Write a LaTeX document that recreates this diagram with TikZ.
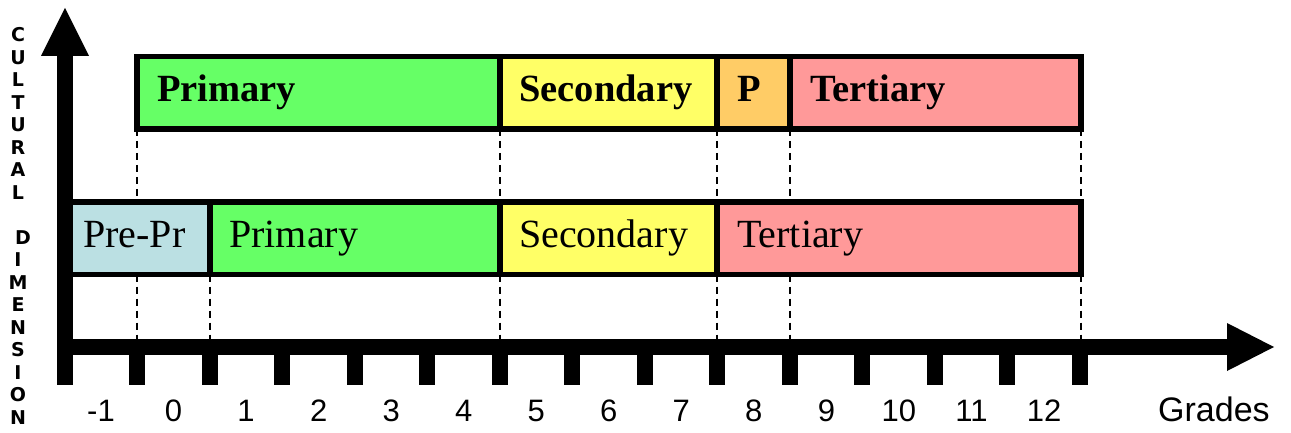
\documentclass[tikz,border=0pt]{standalone}
\usepackage{fontspec}
\setmainfont{Liberation Serif}
\newfontfamily\gradefont{Liberation Sans}
\newfontfamily\vertfont{DejaVu Sans}
\definecolor{cgreen}{RGB}{102,255,102}
\definecolor{cyellow}{RGB}{255,255,102}
\definecolor{corange}{RGB}{255,204,102}
\definecolor{cpink}{RGB}{255,153,153}
\definecolor{cblue}{RGB}{187,224,227}
\begin{document}
\begin{tikzpicture}[x=1pt,y=-1pt,
  box/.style={draw=black,line width=5.5pt,rectangle,inner sep=0pt,outer sep=0pt,anchor=north west,minimum height=72.5pt},
  dashline/.style={line width=1.8pt,dash pattern=on 7pt off 5pt},
  toplabel/.style={anchor=base west,inner sep=0pt,font=\fontsize{38.5}{42}\selectfont\bfseries},
  botlabel/.style={anchor=base west,inner sep=0pt,font=\fontsize{40}{44}\selectfont},
  gradelabel/.style={anchor=base,inner sep=0pt,font=\gradefont\fontsize{31}{34}\selectfont},
  vletter/.style={inner sep=0pt,font=\vertfont\fontsize{19}{22}\selectfont\bfseries},
]
\useasboundingbox (0,0) rectangle (1291,433);

% axis reference coordinate (top edge of horizontal shaft)
\coordinate (xaxis) at (65,339);

% boxes: top row
\node[box,fill=cgreen,minimum width=363pt] (tprim) at (137,56.5) {};
\node[box,fill=cyellow,minimum width=217pt] (tsec) at (500,56.5) {};
\node[box,fill=corange,minimum width=73pt] (tp) at (717,56.5) {};
\node[box,fill=cpink,minimum width=291pt] (tter) at (790,56.5) {};
% boxes: bottom row
\node[box,fill=cblue,minimum width=145pt] (bpre) at (65,202) {};
\node[box,fill=cgreen,minimum width=290pt] (bprim) at (210,202) {};
\node[box,fill=cyellow,minimum width=217pt] (bsec) at (500,202) {};
\node[box,fill=cpink,minimum width=364pt] (bter) at (717,202) {};

% dashed guide lines
\draw[dashline] (tprim.south west) -- (tprim.south west |- bpre.north);
\draw[dashline] (tprim.south west |- bpre.south) -- (tprim.south west |- xaxis);
\draw[dashline] (bprim.south west) -- (bprim.south west |- xaxis);
\draw[dashline] (tsec.south west) -- (bsec.north west);
\draw[dashline] (bsec.south west) -- (bsec.south west |- xaxis);
\draw[dashline] (tp.south west) -- (bter.north west);
\draw[dashline] (bter.south west) -- (bter.south west |- xaxis);
\draw[dashline] (tter.south west) -- (tter.south west |- bter.north);
\draw[dashline] (tter.south west |- bter.south) -- (tter.south west |- xaxis);
\draw[dashline] (tter.south east) -- (bter.north east);
\draw[dashline] (bter.south east) -- (bter.south east |- xaxis);

% box labels
\node[toplabel] (ltprim) at (157,102) {Primary};
\node[toplabel] (ltsec) at (519,102) {Secondary};
\node[toplabel] (ltp) at (737,102) {P};
\node[toplabel] (ltter) at (810,102) {Tertiary};
\node[botlabel] (lbpre) at (83,247) {Pre-Pr};
\node[botlabel] (lbprim) at (229,247) {Primary};
\node[botlabel] (lbsec) at (519,247) {Secondary};
\node[botlabel] (lbter) at (737,247) {Tertiary};

% axes
\fill (57,385) rectangle (73,55);
\fill (41,56) -- (89,56) -- (65,8) -- cycle;
\fill (57,339) rectangle (1228,355);
\fill (1227,323) -- (1227,371) -- (1274,347) -- cycle;
\foreach \k in {0,...,13}
  \fill ({137+72.54*\k-8},350) rectangle ({137+72.54*\k+8},385);

% grade labels
\foreach \g [count=\i from 0] in {-1,0,1,2,3,4,5,6,7,8,9,10,11,12}
  \node[gradelabel] (g\i) at ({101+72.54*\i},421) {\g};
\node[gradelabel,anchor=base west,font=\gradefont\fontsize{34}{38}\selectfont] (grades) at (1158,421) {Grades};

% vertical axis title
\foreach \ch/\r/\xx in {C/0/18,U/1/18,L/2/18,T/3/18,U/4/18,R/5/18,A/6/18,L/7/18,D/9/23,I/10/18,M/11/18,E/12/18,N/13/18,S/14/18,I/15/18,O/16/18,N/17/18}
  \node[vletter] (v\r) at (\xx,{35+22.5*\r}) {\ch};
\end{tikzpicture}
\end{document}
